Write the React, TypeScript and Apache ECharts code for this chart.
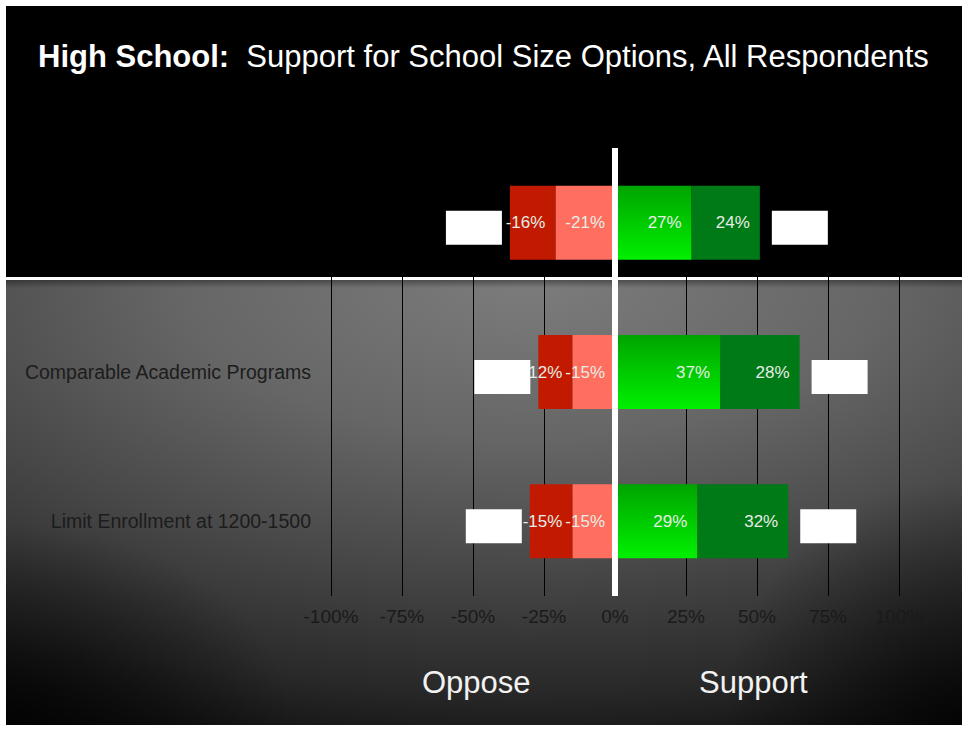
import React, { useEffect, useRef } from "react";
import * as echarts from "echarts";

const categories = ["", "Comparable Academic Programs", "Limit Enrollment at 1200-1500"];
const strongOppose = [-16, -12, -15];
const oppose = [-21, -15, -15];
const support = [27, 37, 29];
const strongSupport = [24, 28, 32];

const FONT = "'Liberation Sans', Arial, Helvetica, sans-serif";

export default function App() {
  const ref = useRef<HTMLDivElement>(null);
  useEffect(() => {
    document.body.style.margin = "0";
    const chart = echarts.init(ref.current!, null, { renderer: "svg" });
    const totals = categories.map((_, i) => [
      i,
      strongOppose[i] + oppose[i],
      support[i] + strongSupport[i],
    ]);
    const barLabel = {
      show: true,
      position: "insideRight",
      distance: 10,
      formatter: (p: any) => `${p.value}%`,
      color: "#e6ede6",
      fontSize: 17,
      fontFamily: FONT,
    };
    const greenGrad = new echarts.graphic.LinearGradient(0, 0, 0, 1, [
      { offset: 0, color: "#00a400" },
      { offset: 1, color: "#00f000" },
    ]);
    chart.setOption({
      animation: false,
      backgroundColor: "transparent",
      title: {
        text: "{b|High School:}  Support for School Size Options, All Respondents",
        left: 38,
        top: 41,
        padding: 0,
        textStyle: {
          color: "#ffffff",
          fontSize: 31,
          fontWeight: "normal",
          fontFamily: FONT,
          rich: {
            b: { color: "#ffffff", fontSize: 31, fontWeight: "bold", fontFamily: FONT },
          },
        },
      },
      grid: { left: 331, right: 69, top: 148, bottom: 134 },
      xAxis: {
        type: "value",
        min: -100,
        max: 100,
        interval: 25,
        axisLine: { show: false },
        axisTick: { show: false },
        splitLine: { show: true, lineStyle: { color: "#000000", width: 1 } },
        axisLabel: {
          formatter: "{value}%",
          color: "#1a1a1a",
          fontSize: 19,
          fontFamily: FONT,
          margin: 11,
        },
      },
      yAxis: {
        type: "category",
        inverse: true,
        data: categories,
        axisLine: { show: false },
        axisTick: { show: false },
        axisLabel: { color: "#1c1c1c", fontSize: 19.5, fontFamily: FONT, margin: 20 },
      },
      graphic: [
        {
          type: "text",
          left: 422,
          top: 667,
          style: { text: "Oppose", fill: "#f2f2f2", fontSize: 31, fontFamily: FONT },
        },
        {
          type: "text",
          left: 699,
          top: 667,
          style: { text: "Support", fill: "#f2f2f2", fontSize: 31, fontFamily: FONT },
        },
      ],
      series: [
        {
          name: "Oppose",
          type: "bar",
          stack: "s",
          barWidth: 74,
          data: oppose,
          itemStyle: { color: "#ff6e5e" },
          label: barLabel,
          markLine: {
            silent: true,
            symbol: "none",
            label: { show: false },
            lineStyle: { color: "#ffffff", width: 6, type: "solid" },
            data: [{ xAxis: 0 }],
            z: 5,
          },
        },
        {
          name: "Strongly Oppose",
          type: "bar",
          stack: "s",
          barWidth: 74,
          data: strongOppose,
          itemStyle: { color: "#c21a00" },
          label: barLabel,
        },
        {
          name: "Support",
          type: "bar",
          stack: "s",
          barWidth: 74,
          data: support,
          itemStyle: { color: greenGrad },
          label: barLabel,
        },
        {
          name: "Strongly Support",
          type: "bar",
          stack: "s",
          barWidth: 74,
          data: strongSupport,
          itemStyle: { color: "#007a16" },
          label: barLabel,
        },
        {
          name: "Totals",
          type: "custom",
          z: 10,
          data: totals,
          encode: { x: [1, 2], y: 0 },
          renderItem: (params: any, api: any) => {
            const cat = api.value(0);
            const left = api.coord([api.value(1), cat]);
            const right = api.coord([api.value(2), cat]);
            const w = 56;
            const h = 34;
            return {
              type: "group",
              children: [
                {
                  type: "rect",
                  shape: { x: left[0] - 8 - w, y: left[1] - h / 2 + 5, width: w, height: h },
                  style: { fill: "#ffffff" },
                },
                {
                  type: "rect",
                  shape: { x: right[0] + 12, y: right[1] - h / 2 + 5, width: w, height: h },
                  style: { fill: "#ffffff" },
                },
              ],
            };
          },
        },
      ],
    });
    return () => chart.dispose();
  }, []);

  const bg = {
    width: 968,
    height: 730,
    backgroundColor: "#ffffff",
    backgroundImage: [
      "linear-gradient(#ffffff, #ffffff)",
      "linear-gradient(rgba(0,0,0,0.35), rgba(0,0,0,0))",
      "radial-gradient(ellipse 30% 45% at 0% 100%, rgba(0,0,0,0.75) 0%, rgba(0,0,0,0) 100%)",
      "radial-gradient(ellipse 25% 55% at 100% 100%, rgba(0,0,0,0.75) 0%, rgba(0,0,0,0) 100%)",
      "radial-gradient(ellipse 122% 119% at 55% 0%, #7c7c7c 0%, #666666 30%, #474747 55%, #282828 78%, #141414 89%, #000000 100%)",
      "linear-gradient(#000000, #000000)",
    ].join(","),
    backgroundPosition: "6px 277px, 6px 280px, 6px 280px, 6px 280px, 6px 280px, 6px 6px",
    backgroundSize: "956px 3px, 956px 8px, 956px 445px, 956px 445px, 956px 445px, 956px 719px",
    backgroundRepeat: "no-repeat",
  } as React.CSSProperties;

  return (
    <div style={bg}>
      <div ref={ref} style={{ width: 968, height: 730 }} />
    </div>
  );
}
